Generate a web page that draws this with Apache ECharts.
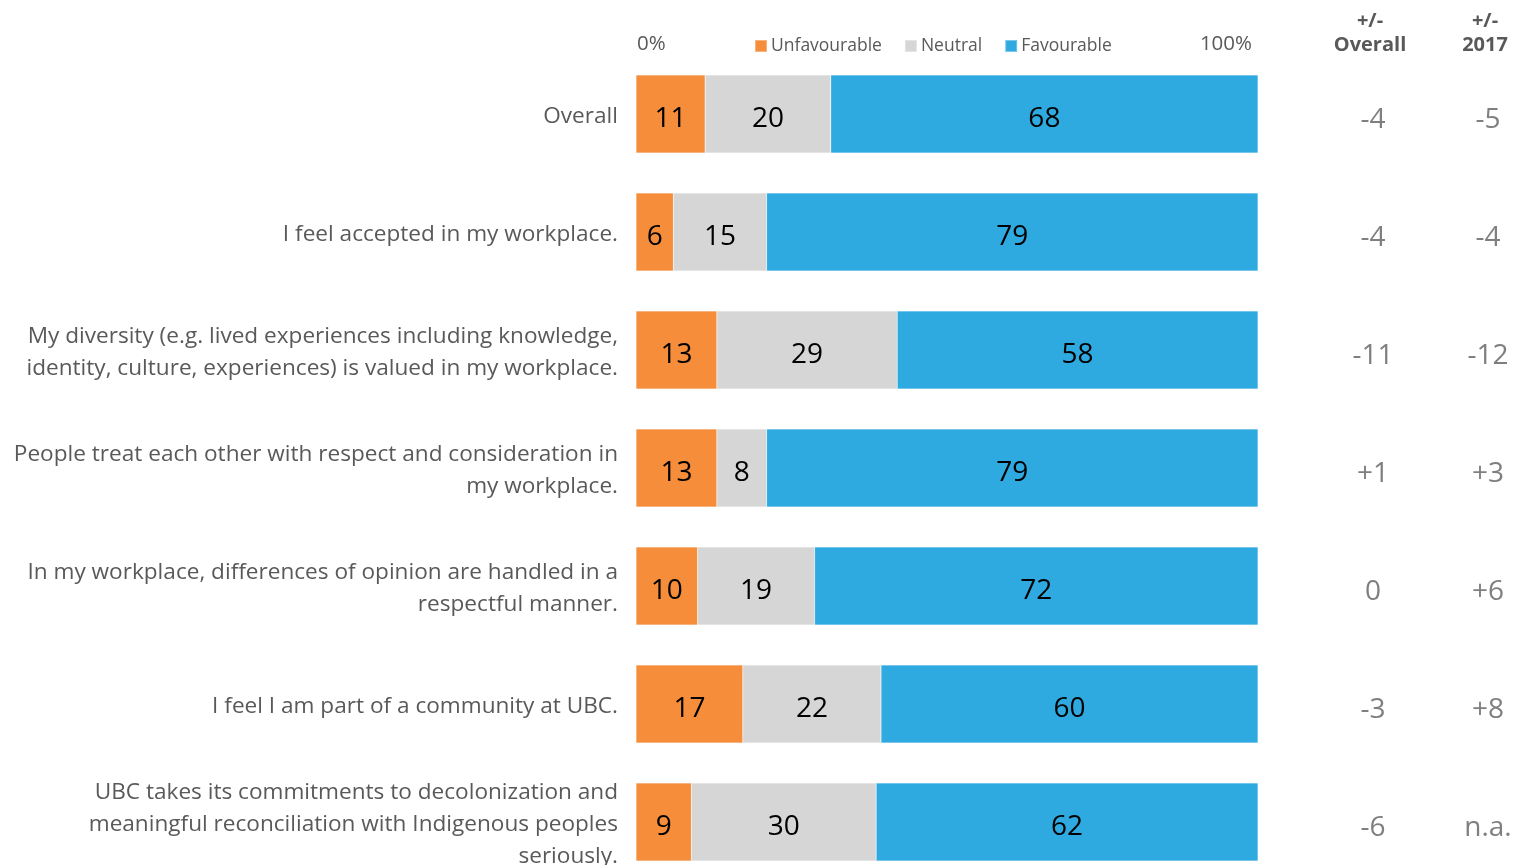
<!DOCTYPE html>
<html><head><meta charset="utf-8">
<script src="https://cdn.jsdelivr.net/npm/echarts@6/dist/echarts.min.js"></script>
<style>html,body{margin:0;padding:0;background:#fff}#c{width:1513px;height:865px}</style>
</head><body><div id="c"></div>
<script>
const categories = [
  "Overall",
  "I feel accepted in my workplace.",
  "My diversity (e.g. lived experiences including knowledge,\nidentity, culture, experiences) is valued in my workplace.",
  "People treat each other with respect and consideration in\nmy workplace.",
  "In my workplace, differences of opinion are handled in a\nrespectful manner.",
  "I feel I am part of a community at UBC.",
  "UBC takes its commitments to decolonization and\nmeaningful reconciliation with Indigenous peoples\nseriously."
];
const unfavourable = [11, 6, 13, 13, 10, 17, 9];
const neutral      = [20, 15, 29, 8, 19, 22, 30];
const favourable   = [68, 79, 58, 79, 72, 60, 62];
const diffOverall  = ["-4", "-4", "-11", "+1", "0", "-3", "-6"];
const diff2017     = ["-5", "-4", "-12", "+3", "+6", "+8", "n.a."];
const axisTicks    = ["0%", "100%"];

const FONT = "'Open Sans', 'Noto Sans', sans-serif";
const rowSum = unfavourable.map((u, i) => u + neutral[i] + favourable[i]);
const norm = arr => arr.map((v, i) => ({ value: v / rowSum[i] * 100, raw: v }));

const labelCfg = {
  show: true, position: 'inside', color: '#000', fontSize: 28, fontFamily: FONT,
  offset: [0, 5],
  formatter: p => p.data.raw
};
const mk = (name, arr, color) => ({
  name, type: 'bar', stack: 'all', data: norm(arr), barWidth: 78,
  itemStyle: { color, borderColor: 'rgba(255,255,255,0.35)', borderWidth: 0.5 },
  label: labelCfg, emphasis: { disabled: true }
});

const chart = echarts.init(document.getElementById('c'), null, { renderer: 'canvas' });
chart.setOption({
  animation: false,
  textStyle: { fontFamily: FONT },
  grid: { left: 636, right: 255, top: 55, height: 826, containLabel: false, outerBoundsMode: 'none' },
  legend: {
    left: 749, top: 32, itemWidth: 12, itemHeight: 12, itemGap: 22,
    icon: 'rect',
    textStyle: { fontSize: 17.5, color: '#595959', fontFamily: FONT, padding: [0, 0, 0, -1] },
    data: ['Unfavourable', 'Neutral', 'Favourable']
  },
  xAxis: {
    type: 'value', min: 0, max: 100, interval: 100, position: 'top',
    axisLine: { show: false }, axisTick: { show: false }, splitLine: { show: false },
    axisLabel: {
      color: '#595959', fontSize: 20.5, fontFamily: FONT, margin: 0,
      padding: [0, 6, 0, 1],
      alignMinLabel: 'left', alignMaxLabel: 'right',
      formatter: v => v === 0 ? axisTicks[0] : (v === 100 ? axisTicks[1] : '')
    }
  },
  yAxis: [
    {
      type: 'category', inverse: true, data: categories,
      axisLine: { show: false }, axisTick: { show: false },
      axisLabel: {
        color: '#595959', fontSize: 22.6, lineHeight: 32, margin: 18, align: 'right', fontFamily: FONT,
        formatter: v => '{p|}\n' + v,
        rich: { p: { height: 5, lineHeight: 5, fontSize: 1 } }
      }
    },
    {
      type: 'category', inverse: true, data: diffOverall, position: 'right',
      axisLine: { show: false }, axisTick: { show: false },
      axisLabel: {
        color: '#7f7f7f', fontSize: 28, margin: 115, align: 'center', fontFamily: FONT,
        formatter: v => '{p|}\n' + v,
        rich: { p: { height: 12, lineHeight: 12, fontSize: 1 } }
      }
    },
    {
      type: 'category', inverse: true, data: diff2017, position: 'right', offset: 0,
      axisLine: { show: false }, axisTick: { show: false },
      axisLabel: {
        color: '#7f7f7f', fontSize: 28, margin: 230, align: 'center', fontFamily: FONT,
        formatter: v => '{p|}\n' + v,
        rich: { p: { height: 12, lineHeight: 12, fontSize: 1 } }
      }
    }
  ],
  graphic: [
    { type: 'text', x: 1370, y: 9, style: { text: '+/-\nOverall', align: 'center', fill: '#595959', font: "bold 20px " + FONT, lineHeight: 24 } },
    { type: 'text', x: 1485, y: 9, style: { text: '+/-\n2017', align: 'center', fill: '#595959', font: "bold 20px " + FONT, lineHeight: 24 } }
  ],
  series: [
    mk('Unfavourable', unfavourable, '#F58D3B'),
    mk('Neutral', neutral, '#D6D6D6'),
    mk('Favourable', favourable, '#2EAAE1')
  ]
});
</script>
</body></html>
